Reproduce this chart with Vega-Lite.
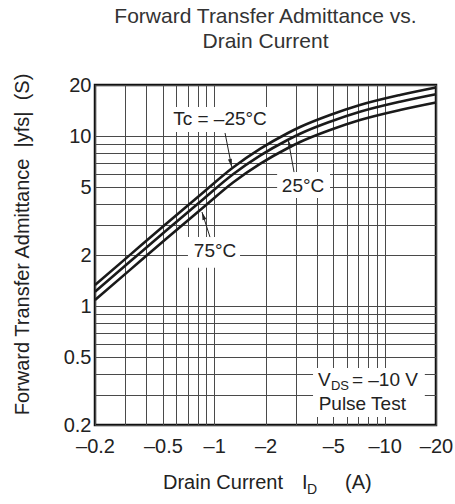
{
  "$schema": "https://vega.github.io/schema/vega-lite/v6.json",
  "width": 341,
  "height": 340,
  "autosize": {"type": "none"},
  "padding": {"left": 95, "top": 85, "right": 19, "bottom": 79},
  "background": "white",
  "config": {
    "font": "Liberation Sans",
    "view": {"stroke": "#111", "strokeWidth": 2.5},
    "axis": {
      "grid": true,
      "gridColor": "#4a4a4a",
      "gridWidth": 1,
      "gridOpacity": 1,
      "ticks": false,
      "domain": false,
      "labelFont": "Liberation Sans",
      "labelFontSize": 20,
      "labelColor": "#222",
      "labelOverlap": false,
      "labelFlush": false,
      "titleFont": "Liberation Sans",
      "titleFontWeight": "normal",
      "titleColor": "#222",
      "titleFontSize": 20
    }
  },
  "title": {
    "text": ["Forward Transfer Admittance vs.", "Drain Current"],
    "fontSize": 21,
    "fontWeight": "normal",
    "color": "#333",
    "font": "Liberation Sans",
    "anchor": "middle",
    "lineHeight": 25,
    "offset": 20
  },
  "datasets": {
    "curves": [
      {"series": "Tc=-25", "current": 0.2, "yfs": 1.332},
      {"series": "Tc=-25", "current": 0.321, "yfs": 2.003},
      {"series": "Tc=-25", "current": 0.515, "yfs": 3.01},
      {"series": "Tc=-25", "current": 0.848, "yfs": 4.6},
      {"series": "Tc=-25", "current": 1.29, "yfs": 6.54},
      {"series": "Tc=-25", "current": 1.857, "yfs": 8.41},
      {"series": "Tc=-25", "current": 2.71, "yfs": 10.44},
      {"series": "Tc=-25", "current": 3.19, "yfs": 11.32},
      {"series": "Tc=-25", "current": 4.78, "yfs": 13.32},
      {"series": "Tc=-25", "current": 7.16, "yfs": 15.25},
      {"series": "Tc=-25", "current": 12.3, "yfs": 17.47},
      {"series": "Tc=-25", "current": 20, "yfs": 19.33},
      {"series": "Tc=25", "current": 0.2, "yfs": 1.217},
      {"series": "Tc=25", "current": 0.321, "yfs": 1.829},
      {"series": "Tc=25", "current": 0.515, "yfs": 2.749},
      {"series": "Tc=25", "current": 0.848, "yfs": 4.2},
      {"series": "Tc=25", "current": 1.29, "yfs": 5.97},
      {"series": "Tc=25", "current": 1.857, "yfs": 7.68},
      {"series": "Tc=25", "current": 2.71, "yfs": 9.53},
      {"series": "Tc=25", "current": 3.19, "yfs": 10.34},
      {"series": "Tc=25", "current": 4.78, "yfs": 12.17},
      {"series": "Tc=25", "current": 7.16, "yfs": 13.93},
      {"series": "Tc=25", "current": 12.3, "yfs": 15.96},
      {"series": "Tc=25", "current": 20, "yfs": 17.65},
      {"series": "Tc=75", "current": 0.2, "yfs": 1.087},
      {"series": "Tc=75", "current": 0.321, "yfs": 1.635},
      {"series": "Tc=75", "current": 0.515, "yfs": 2.457},
      {"series": "Tc=75", "current": 0.848, "yfs": 3.755},
      {"series": "Tc=75", "current": 1.29, "yfs": 5.34},
      {"series": "Tc=75", "current": 1.857, "yfs": 6.87},
      {"series": "Tc=75", "current": 2.71, "yfs": 8.52},
      {"series": "Tc=75", "current": 3.19, "yfs": 9.24},
      {"series": "Tc=75", "current": 4.78, "yfs": 10.87},
      {"series": "Tc=75", "current": 7.16, "yfs": 12.45},
      {"series": "Tc=75", "current": 12.3, "yfs": 14.26},
      {"series": "Tc=75", "current": 20, "yfs": 15.78}
    ],
    "boxes": [
      {"current": 0.551, "current2": 2.18, "yfs": 10.58, "yfs2": 14.84},
      {"current": 2.34, "current2": 4.78, "yfs": 4.33, "yfs2": 6.15},
      {"current": 0.702, "current2": 1.418, "yfs": 1.68, "yfs2": 2.55},
      {"current": 3.8, "current2": 17.2, "yfs": 0.223, "yfs2": 0.433}
    ],
    "labels": [
      {"current": 1.082, "yfs": 12.62, "label": "Tc = –25°C"},
      {"current": 3.32, "yfs": 5.09, "label": "25°C"},
      {"current": 1.012, "yfs": 2.11, "label": "75°C"}
    ],
    "arrows": [
      {"current": 1.158, "yfs": 10.44, "current2": 1.267, "yfs2": 6.59},
      {"current": 2.94, "yfs": 6.15, "current2": 2.72, "yfs2": 9.5},
      {"current": 0.945, "yfs": 2.55, "current2": 0.848, "yfs2": 3.58}
    ]
  },
  "encoding": {
    "x": {
      "field": "current",
      "type": "quantitative",
      "scale": {"type": "log", "domain": [0.2, 20], "nice": false, "zero": false},
      "axis": {
        "values": [0.2, 0.3, 0.4, 0.5, 0.6, 0.7, 0.8, 0.9, 1, 2, 3, 4, 5, 6, 7, 8, 9, 10, 20],
        "labelExpr": "(datum.value == 0.2 || datum.value == 0.5 || datum.value == 1 || datum.value == 2 || datum.value == 5 || datum.value == 10 || datum.value == 20) ? '–' + datum.value : ''",
        "labelPadding": 11,
        "title": null
      }
    },
    "y": {
      "field": "yfs",
      "type": "quantitative",
      "scale": {"type": "log", "domain": [0.2, 20], "nice": false, "zero": false},
      "axis": {
        "values": [0.2, 0.3, 0.4, 0.5, 0.6, 0.7, 0.8, 0.9, 1, 2, 3, 4, 5, 6, 7, 8, 9, 10, 20],
        "labelExpr": "(datum.value == 0.2 || datum.value == 0.5 || datum.value == 1 || datum.value == 2 || datum.value == 5 || datum.value == 10 || datum.value == 20) ? '' + datum.value : ''",
        "labelPadding": 4,
        "title": "Forward Transfer Admittance\u00a0\u00a0|yfs|\u00a0\u00a0(S)",
        "titlePadding": 31,
        "titleY": 159
      }
    }
  },
  "layer": [
    {
      "data": {"name": "boxes"},
      "mark": {"type": "rect", "fill": "white", "stroke": null},
      "encoding": {
        "x2": {"field": "current2"},
        "y2": {"field": "yfs2"}
      }
    },
    {
      "data": {"name": "curves"},
      "mark": {"type": "line", "interpolate": "monotone", "strokeWidth": 2.6, "color": "#1a1a1a"},
      "encoding": {
        "detail": {"field": "series", "type": "nominal"}
      }
    },
    {
      "data": {"name": "labels"},
      "mark": {"type": "text", "align": "center", "baseline": "middle", "fontSize": 19, "color": "#222", "font": "Liberation Sans"},
      "encoding": {"text": {"field": "label"}}
    },
    {
      "data": {"name": "arrows"},
      "mark": {"type": "rule", "strokeWidth": 1, "color": "#222"},
      "encoding": {
        "x2": {"field": "current2"},
        "y2": {"field": "yfs2"}
      }
    },
    {
      "data": {"values": [{"current": 1.267, "yfs": 6.59}]},
      "mark": {"type": "point", "shape": "M0,0L-0.5,2L0.5,2Z", "filled": true, "size": 64, "color": "#222", "opacity": 1, "angle": 167},
      "encoding": {}
    },
    {
      "data": {"values": [{"current": 2.72, "yfs": 9.5}]},
      "mark": {"type": "point", "shape": "M0,0L-0.5,2L0.5,2Z", "filled": true, "size": 64, "color": "#222", "opacity": 1, "angle": 346},
      "encoding": {}
    },
    {
      "data": {"values": [{"current": 0.848, "yfs": 3.58}]},
      "mark": {"type": "point", "shape": "M0,0L-0.5,2L0.5,2Z", "filled": true, "size": 64, "color": "#222", "opacity": 1, "angle": 342},
      "encoding": {}
    },
    {
      "data": {"values": [{"current": 4.06, "yfs": 0.368, "label": "V"}]},
      "mark": {"type": "text", "align": "left", "baseline": "middle", "fontSize": 19, "color": "#222"},
      "encoding": {"text": {"field": "label"}}
    },
    {
      "data": {"values": [{"current": 4.06, "yfs": 0.368, "label": "DS"}]},
      "mark": {"type": "text", "align": "left", "baseline": "middle", "fontSize": 13, "dx": 13, "dy": 6, "color": "#222"},
      "encoding": {"text": {"field": "label"}}
    },
    {
      "data": {"values": [{"current": 4.06, "yfs": 0.368, "label": "= –10 V"}]},
      "mark": {"type": "text", "align": "left", "baseline": "middle", "fontSize": 19, "dx": 34, "color": "#222"},
      "encoding": {"text": {"field": "label"}}
    },
    {
      "data": {"values": [{"current": 4.1, "yfs": 0.266, "label": "Pulse Test"}]},
      "mark": {"type": "text", "align": "left", "baseline": "middle", "fontSize": 19, "color": "#222"},
      "encoding": {"text": {"field": "label"}}
    },
    {
      "data": {"values": [
        {"current": 0.501, "yfs": 0.2, "label": "Drain Current"},
        {"current": 3.27, "yfs": 0.2, "label": "I"},
        {"current": 5.85, "yfs": 0.2, "label": "(A)"}
      ]},
      "mark": {"type": "text", "align": "left", "baseline": "alphabetic", "fontSize": 20, "dy": 64, "color": "#222"},
      "encoding": {"text": {"field": "label"}}
    },
    {
      "data": {"values": [{"current": 3.5, "yfs": 0.2, "label": "D"}]},
      "mark": {"type": "text", "align": "left", "baseline": "alphabetic", "fontSize": 14, "dy": 69, "color": "#222"},
      "encoding": {"text": {"field": "label"}}
    }
  ]
}
